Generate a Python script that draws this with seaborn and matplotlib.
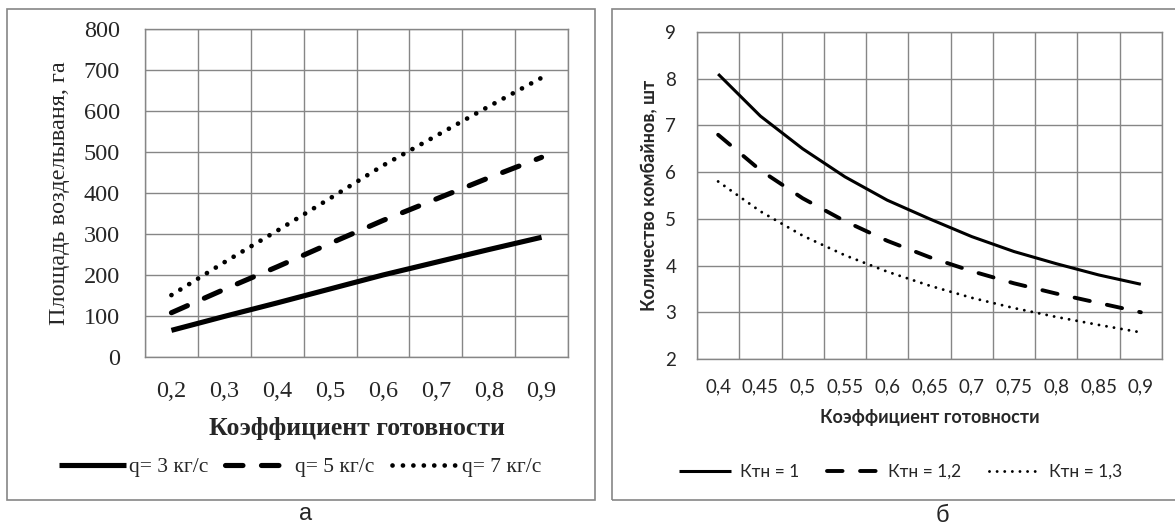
import numpy as np
import pandas as pd
import seaborn as sns
import matplotlib.pyplot as plt
from matplotlib.patches import Rectangle

# --- data, panel "а" ---
kg_labels = ['0,2', '0,3', '0,4', '0,5', '0,6', '0,7', '0,8', '0,9']
q3 = [65, 99, 132, 166, 200, 231, 262, 292]
q5 = [108, 165, 220, 277, 333, 385, 437, 487]
q7 = [151, 231, 308, 387, 467, 539, 611, 681]
q_names = ['q= 3 кг/с', 'q= 5 кг/с', 'q= 7 кг/с']

# --- data, panel "б" ---
kb_labels = ['0,4', '0,45', '0,5', '0,55', '0,6', '0,65', '0,7', '0,75', '0,8', '0,85', '0,9']
ktn_1 = [8.1, 7.2, 6.5, 5.9, 5.4, 5.0, 4.62, 4.3, 4.04, 3.8, 3.6]
ktn_12 = [6.8, 6.04, 5.44, 4.95, 4.53, 4.18, 3.88, 3.62, 3.4, 3.2, 3.0]
ktn_13 = [5.8, 5.16, 4.64, 4.22, 3.87, 3.57, 3.31, 3.09, 2.9, 2.73, 2.57]
ktn_names = ['Ктн = 1', 'Ктн = 1,2', 'Ктн = 1,3']

sns.set_style('white')
plt.rcParams['lines.dash_capstyle'] = 'round'
plt.rcParams['lines.solid_capstyle'] = 'butt'

GRID = '#868686'
W, H = 1175, 528

fig = plt.figure(figsize=(W / 100, H / 100), dpi=100)

def box(x0, y0, x1, y1):
    return [x0 / W, 1 - y1 / H, (x1 - x0) / W, (y1 - y0) / H]

# panel frames
fig.patches.append(Rectangle((7 / W, 1 - 500 / H), (595 - 7) / W, (500 - 9) / H,
                             transform=fig.transFigure, fill=False, ec=GRID, lw=1.2))
fig.patches.append(Rectangle((612 / W, 1 - 500 / H), (1180 - 612) / W, (500 - 9) / H,
                             transform=fig.transFigure, fill=False, ec=GRID, lw=1.2))


def category_axes(ax, labels, font, size, xpad, ypad):
    n = len(labels)
    ax.set_xlim(-0.5, n - 0.5)
    ax.set_xticks(np.arange(-0.5, n), labels=[])
    ax.set_xticks(np.arange(n), labels=labels, minor=True)
    ax.tick_params(axis='x', which='major', length=6, color=GRID, width=1)
    ax.tick_params(axis='x', which='minor', length=0, pad=xpad)
    ax.tick_params(axis='y', length=6, color=GRID, width=1, pad=ypad)
    for lab in ax.get_xticklabels(minor=True) + ax.get_yticklabels():
        lab.set_fontfamily(font)
        lab.set_fontsize(size)
    ax.grid(True, which='major', color=GRID, lw=1)
    for s in ax.spines.values():
        s.set_color(GRID)
        s.set_linewidth(1)


# ---------- panel а ----------
serif = ['Liberation Serif', 'DejaVu Serif']
ax1 = fig.add_axes(box(145, 29, 568, 357))
df_a = pd.DataFrame({'pos': np.arange(len(kg_labels)), 'q3': q3, 'q5': q5, 'q7': q7})
styles_a = [dict(lw=3.7), dict(lw=3.7, dashes=(3.4, 3.6)), dict(lw=3.4, dashes=(0.01, 2.2))]
for col, name, st in zip(['q3', 'q5', 'q7'], q_names, styles_a):
    sns.lineplot(data=df_a, x='pos', y=col, ax=ax1, color='black', label=name, **st)
ax1.set_ylim(0, 800)
ax1.set_yticks(np.arange(0, 801, 100))
category_axes(ax1, kg_labels, serif, 17.5, xpad=17, ypad=12)
ax1.set_xlabel('Коэффициент готовности', family=serif, fontsize=18.5,
               fontweight='bold', va='center')
ax1.xaxis.set_label_coords(0.5, (357 - 428) / 328)
ax1.set_ylabel('Площадь возделываня, га', family=serif, fontsize=17.5, va='center')
ax1.yaxis.set_label_coords((60 - 145) / 423, 0.5)
ax1.get_legend().remove()
h1, l1 = ax1.get_legend_handles_labels()
fig.legend(h1, l1, loc='center', bbox_to_anchor=(300 / W, 1 - 467 / H), ncol=3,
           frameon=False, prop={'family': serif, 'size': 15.5}, handlelength=3.1,
           handletextpad=0.15, columnspacing=0.8)

# ---------- panel б ----------
sans = ['Lato', 'DejaVu Sans']
ax2 = fig.add_axes(box(697, 32, 1162, 359))
df_b = pd.DataFrame({'pos': np.arange(len(kb_labels)), 'k1': ktn_1, 'k12': ktn_12, 'k13': ktn_13})
styles_b = [dict(lw=2.2), dict(lw=2.8, dashes=(4.0, 4.5)), dict(lw=2.1, dashes=(0.01, 2.6))]
for col, name, st in zip(['k1', 'k12', 'k13'], ktn_names, styles_b):
    sns.lineplot(data=df_b, x='pos', y=col, ax=ax2, color='black', label=name, **st)
ax2.set_ylim(2, 9)
ax2.set_yticks(np.arange(2, 10, 1))
category_axes(ax2, kb_labels, sans, 13.5, xpad=14, ypad=9)
ax2.set_xlabel('Коэффициент готовности', family=sans, fontsize=13,
               fontweight='bold', va='center')
ax2.xaxis.set_label_coords(0.5, (359 - 417) / 327)
ax2.set_ylabel('Количество комбайнов, шт', family=sans, fontsize=13,
               fontweight='bold', va='center')
ax2.yaxis.set_label_coords((650 - 697) / 465, 0.5)
ax2.get_legend().remove()
h2, l2 = ax2.get_legend_handles_labels()
fig.legend(h2, l2, loc='center', bbox_to_anchor=(901 / W, 1 - 472 / H), ncol=3,
           frameon=False, prop={'family': sans, 'size': 12.5}, handlelength=3.0,
           handletextpad=0.5, columnspacing=1.6)

# panel letters
fig.text(306 / W, 1 - 514 / H, 'а', ha='center', va='center',
         family=['Liberation Sans'], fontsize=17)
fig.text(942 / W, 1 - 516 / H, 'б', ha='center', va='center',
         family=['Liberation Sans'], fontsize=17)

fig.savefig('out.png', dpi=100)
